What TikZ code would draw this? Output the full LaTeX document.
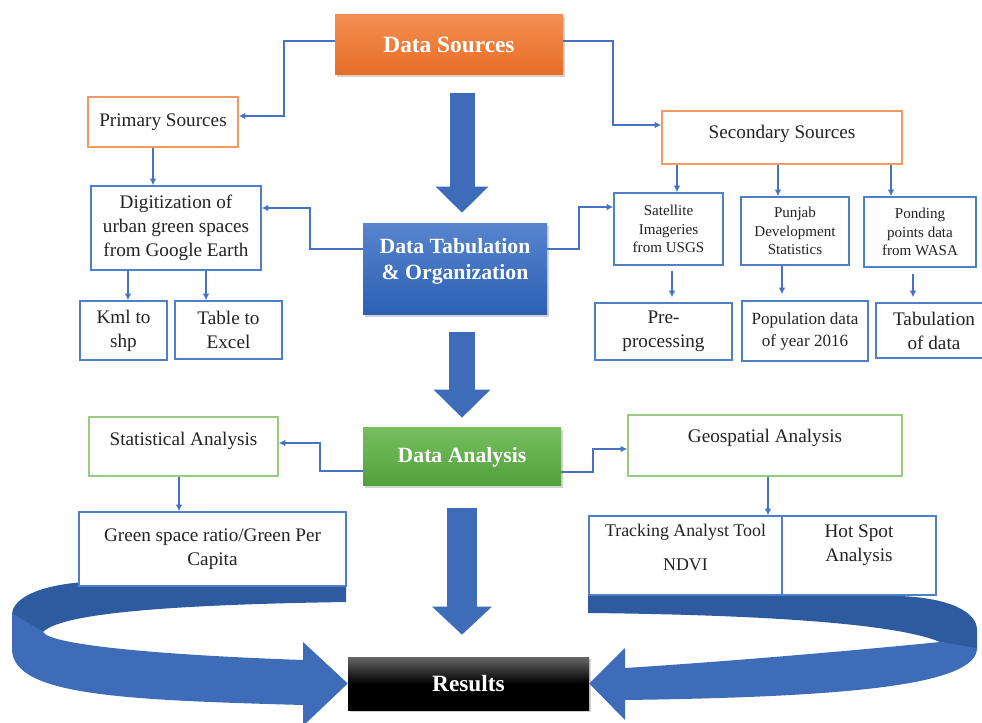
\documentclass[tikz,border=0pt]{standalone}
\usepackage{fontspec}
\setmainfont{Liberation Serif}
\usetikzlibrary{arrows.meta,shadows}

\definecolor{linkblue}{RGB}{68,114,196}
\definecolor{arrowblue}{RGB}{62,108,184}
\definecolor{backblue}{RGB}{46,90,160}
\definecolor{srcTop}{RGB}{243,142,82}
\definecolor{srcBot}{RGB}{232,110,38}
\definecolor{tabTop}{RGB}{88,132,205}
\definecolor{tabBot}{RGB}{42,96,180}
\definecolor{anaTop}{RGB}{118,190,96}
\definecolor{anaBot}{RGB}{82,160,60}
\definecolor{orangeline}{RGB}{245,152,98}
\definecolor{greenline}{RGB}{150,205,128}
\definecolor{blueline}{RGB}{78,128,200}
\definecolor{inkgray}{RGB}{35,35,35}

\newcommand\bigfont{\fontsize{17.5}{21}\selectfont\bfseries}
\newcommand\midfont{\fontsize{16.3}{20}\selectfont\bfseries}
\newcommand\txtfont{\fontsize{14.4}{18}\selectfont}
\newcommand\popfont{\fontsize{12.8}{16.5}\selectfont}
\newcommand\smallfont{\fontsize{11.3}{13.9}\selectfont}

\tikzset{
  wh/.style 2 args={minimum width=#1*0.75pt, minimum height=#2*0.75pt},
  solidbox/.style={inner sep=0pt, text=white,
    drop shadow={opacity=0.35,shadow xshift=1.5pt,shadow yshift=-1.5pt}},
  plainbox/.style={draw=#1, line width=1.1pt, fill=white, inner sep=0pt,
    align=center, text=inkgray, font=\txtfont},
  boxtext/.style={align=center, text=inkgray, font=\txtfont},
  link/.style={draw=linkblue, line width=0.9pt, -{Latex[length=5pt,width=5pt]}},
  bigarrow/.style n args={3}{draw=arrowblue, line width=#1,
    -{Triangle[width=#2,length=#3]}}
}

\begin{document}
\begin{tikzpicture}[x=0.75pt,y=-0.75pt]
  \useasboundingbox (0,0) rectangle (982,723);
  \clip (0,0) rectangle (982,723);

  % main column
  \node[solidbox, top color=srcTop, bottom color=srcBot, wh={228}{60}, font=\bigfont] (src) at (449,45) {Data Sources};
  \node[solidbox, top color=tabTop, bottom color=tabBot, wh={184}{91}] (tab) at (455,269.5) {};
  \node[font=\midfont, text=white, align=center] (tabtxt) at ([yshift=6pt]tab.center) {Data Tabulation\\\& Organization};
  \node[solidbox, top color=anaTop, bottom color=anaBot, wh={198}{58}, font=\midfont] (ana) at (462,457) {Data Analysis};

  \draw[bigarrow={18.75pt}{38.25pt}{19.5pt}, shorten <=13.5pt, shorten >=8.25pt] (src.south -| 462,0) -- (tab.north -| 462,0);
  \draw[bigarrow={19.5pt}{41.25pt}{21pt}, shorten <=12.75pt, shorten >=7.5pt] (tab.south -| 462,0) -- (ana.north -| 462,0);

  % sweeping arrows round the bottom
  \fill[backblue] (346,586) -- (85,582) .. controls (40,585) and (12,598) .. (12,615)
    -- (43,632) .. controls (60,615) and (150,605) .. (346,602) -- cycle;
  \fill[backblue] (588,595) -- (900,596) .. controls (950,598) and (977,612) .. (977,630)
    -- (977,650) -- (940,642) .. controls (900,625) and (780,615) .. (588,613) -- cycle;

  \node[solidbox, top color=black!60, bottom color=black, middle color=black, wh={241}{53}, font=\bigfont] (res) at (468.5,683.5) {Results};
  \draw[bigarrow={22.5pt}{43.5pt}{21pt}, shorten <=16.5pt, shorten >=16.5pt] (ana.south -| 462,0) -- (res.north -| 462,0);

  \fill[arrowblue] (12,613) -- (12,650) .. controls (14,695) and (120,700) .. (303,705)
    -- (303,726) -- (res.west) -- (303,642) -- (303,660)
    .. controls (160,655) and (50,645) .. (43,632) -- cycle;
  \fill[arrowblue] (977,648) .. controls (977,685) and (850,697) .. (625,700)
    -- (625,720) -- (res.east) -- (625,648) -- (625,668)
    .. controls (750,660) and (880,648) .. (940,642) -- cycle;

  % primary branch
  \node[plainbox=orangeline, wh={150}{50}] (prim) at (163,122) {Primary Sources};
  \node[plainbox=blueline, wh={170}{84}] (digi) at (176,228) {Digitization of\\urban green spaces\\from Google Earth};
  \node[plainbox=blueline, wh={87}{59}] (kml) at (123.5,330.5) {Kml to\\shp};
  \node[plainbox=blueline, wh={107}{58}] (excel) at (228.5,330) {Table to\\Excel};

  % secondary branch
  \node[plainbox=orangeline, wh={240}{53}] (sec) at (782,137.5) {};
  \node[boxtext] (sectxt) at ([yshift=3pt]sec.center) {Secondary Sources};
  \node[plainbox=blueline, wh={109}{72}, font=\smallfont] (sat) at (668.5,229) {Satellite\\Imageries\\from USGS};
  \node[plainbox=blueline, wh={108}{68}, font=\smallfont] (punj) at (795,231) {Punjab\\Development\\Statistics};
  \node[plainbox=blueline, wh={112}{70}, font=\smallfont] (pond) at (920,232) {Ponding\\points data\\from WASA};
  \node[plainbox=blueline, wh={137}{57}] (pre) at (663.5,331.5) {Pre-\\processing};
  \node[plainbox=blueline, wh={126}{60}, font=\popfont] (popu) at (805,331) {Population data\\of year 2016};
  \node[plainbox=blueline, wh={116}{55}] (tabu) at (934,330.5) {Tabulation\\of data};

  % analysis branches
  \node[plainbox=greenline, wh={189}{59}] (stat) at (183.5,446.5) {};
  \node[boxtext] (stattxt) at ([yshift=4pt]stat.center) {Statistical Analysis};
  \node[plainbox=blueline, wh={267}{74}] (green) at (212.5,549) {Green space ratio/Green Per\\Capita};
  \node[plainbox=greenline, wh={274}{61}] (geo) at (765,445.5) {};
  \node[boxtext] (geotxt) at ([yshift=5.6pt]geo.center) {Geospatial Analysis};
  \node[plainbox=blueline, wh={193}{79}] (track) at (685.5,555.5) {};
  \node[boxtext, font=\fontsize{13.4}{16}\selectfont] (tracktxt) at ([yshift=6pt]track.center) {Tracking Analyst Tool\\[9pt]NDVI};
  \node[plainbox=blueline, wh={154}{79}] (hot) at (859,555.5) {};
  \node[boxtext] (hottxt) at ([yshift=7.9pt]hot.center) {Hot Spot\\Analysis};

  \draw[link] (src.west |- 0,41) -| (284,116) -- (prim.east |- 0,116);
  \draw[link] (src.east |- 0,41) -| (613,125) -- (sec.west |- 0,125);
  \draw[link] (prim.south -| 153,0) -- (digi.north -| 153,0);
  \draw[link] (tab.west |- 0,249) -| (310,208) -- (digi.east |- 0,208);
  \draw[link] (digi.south -| 128,0) -- (kml.north -| 128,0);
  \draw[link] (digi.south -| 206,0) -- (excel.north -| 206,0);
  \draw[link] (tab.east |- 0,249) -| (579,207) -- (sat.west |- 0,207);
  \foreach \x/\n in {677/sat,778/punj,891/pond}
    \draw[link] (sec.south -| \x,0) -- (\n.north -| \x,0);
  \draw[link, shorten <=3.75pt, shorten >=3.75pt] (sat.south -| 672,0) -- (pre.north -| 672,0);
  \draw[link, shorten >=4.5pt] (punj.south -| 782,0) -- (popu.north -| 782,0);
  \draw[link, shorten <=4.5pt, shorten >=3.75pt] (pond.south -| 913,0) -- (tabu.north -| 913,0);
  \draw[link] (ana.west |- 0,471) -| (320,443) -- (stat.east |- 0,443);
  \draw[link] (stat.south -| 179,0) -- (green.north -| 179,0);
  \draw[link] (ana.east |- 0,472) -| (593,449) -- (geo.west |- 0,449);
  \draw[link] (geo.south -| 768,0) -- (track.north -| 768,0);
\end{tikzpicture}
\end{document}
